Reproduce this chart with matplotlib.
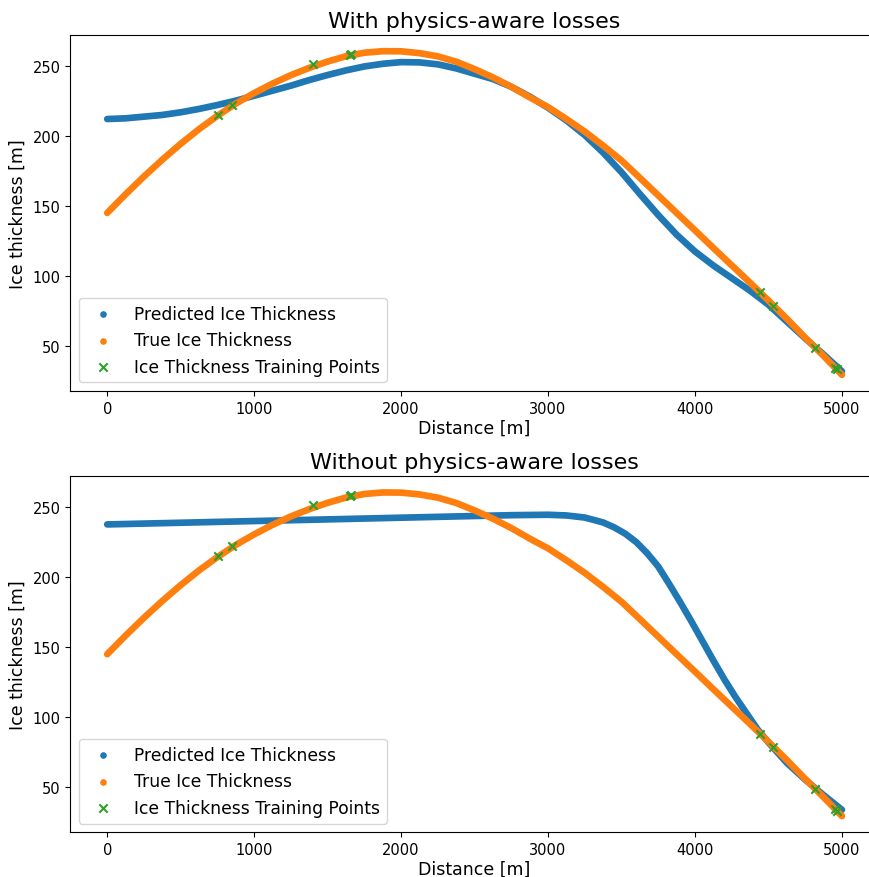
import numpy as np
import matplotlib
matplotlib.use("Agg")
import matplotlib.pyplot as plt

# distance along the flowline (m), sampled every 125 m
distance = np.arange(0, 5001, 125)

# true ice thickness (m)
true_thickness = [
    145, 158.3, 171, 183, 194.3, 204.8, 214.3, 223, 230.5, 237.3,
    243.3, 248.5, 253, 256.8, 259.3, 260.4, 260.3, 259, 256.7, 252.9,
    247.6, 241.7, 235, 227.5, 220.5, 212, 203, 193, 182.4, 170,
    157.5, 145, 132.6, 120, 107.6, 95.2, 82.5, 69.5, 56, 43, 29.5,
]

# prediction with physics-aware losses
pred_physics = [
    212, 212.5, 213.7, 214.9, 216.8, 219.2, 222, 225.1, 228.6, 232.2,
    235.8, 239.8, 243.4, 246.7, 249.5, 251.4, 252.6, 252.4, 251, 248.1,
    244.3, 240.5, 235, 228, 220, 211, 200.5, 188, 174, 158.5,
    143.5, 129.5, 117.5, 107.5, 98.5, 89.5, 79.5, 67.5, 55.5, 44, 32,
]

# prediction without physics-aware losses (denser where it bends)
plain_x = [0, 500, 1000, 1500, 2000, 2500, 2750, 3000, 3125, 3250,
           3375, 3450, 3525, 3600, 3675, 3750, 3825, 3900, 3975, 4050,
           4125, 4200, 4275, 4350, 4425, 4500, 4625, 4750, 4875, 5000]
pred_plain = [237.6, 238.8, 240, 241.2, 242.4, 243.6, 244.2, 244.5, 244, 242.5,
              239, 235.5, 231, 225, 217, 207.5, 195, 182, 168.5, 154.5,
              140.5, 127, 114.5, 103, 91.5, 82, 67.5, 55.5, 44.5, 34]

# training points
train_x = [753, 846, 1401, 1650, 1662, 4445, 4531, 4819, 4955, 4968]
train_y = [215, 222, 251.4, 258, 258.3, 88.3, 78.8, 48.7, 34.5, 33.5]

titles = ["With physics-aware losses", "Without physics-aware losses"]
pred_x = [distance, plain_x]
predictions = [pred_physics, pred_plain]

fig = plt.figure(figsize=(8.7, 8.78), dpi=100)
positions = [[0.081, 0.5535, 0.929, 0.4055], [0.081, 0.0509, 0.929, 0.4055]]

for pos, title, px, pred in zip(positions, titles, pred_x, predictions):
    ax = fig.add_axes(pos)
    ax.plot(px, pred, color="C0", lw=4.8, solid_capstyle="round")
    ax.plot(distance, true_thickness, color="C1", lw=4.8, solid_capstyle="round")
    ax.scatter(train_x, train_y, marker="x", color="C2", s=36, zorder=5)

    # legend handles as small dots, like the original scatter plot
    ax.scatter([], [], s=14, color="C0", label="Predicted Ice Thickness")
    ax.scatter([], [], s=14, color="C1", label="True Ice Thickness")
    ax.scatter([], [], marker="x", s=36, color="C2", label="Ice Thickness Training Points")

    ax.set_title(title, fontsize=16)
    ax.set_xlabel("Distance [m]", fontsize=12.5, labelpad=2)
    ax.set_ylabel("Ice thickness [m]", fontsize=12.5)
    ax.tick_params(labelsize=10.5)
    ax.spines["right"].set_visible(False)
    ax.legend(loc="lower left", fontsize=12.3)

fig.savefig("out.png", dpi=100)
